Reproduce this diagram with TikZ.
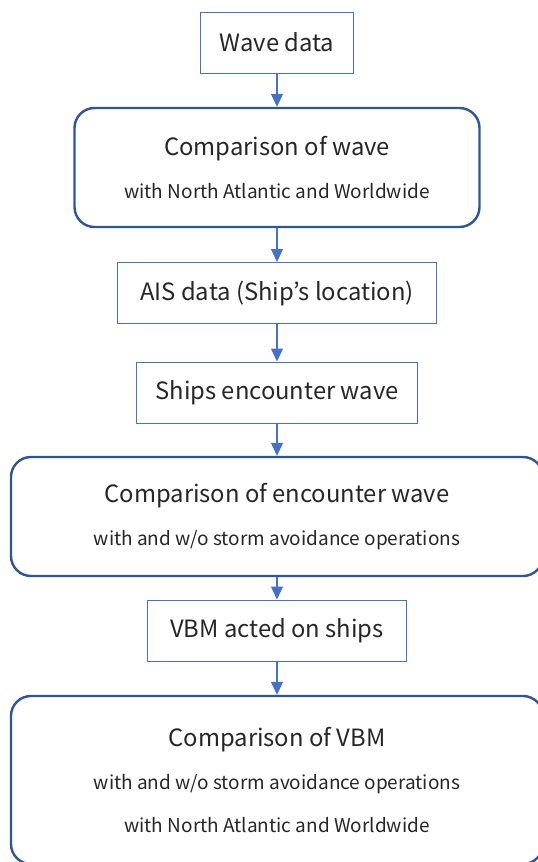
\documentclass[tikz,border=0pt]{standalone}
\usepackage{fontspec}
\setmainfont{Noto Sans CJK JP}
\usetikzlibrary{arrows.meta}

\definecolor{lineblue}{HTML}{4472C4}
\definecolor{darkblue}{HTML}{2F5597}
\definecolor{textgray}{HTML}{262626}

\tikzset{
  databox/.style={draw=lineblue, line width=1pt, minimum height=61pt, text=textgray, font=\fontsize{23.8}{28}\selectfont},
  compbox/.style={draw=darkblue, line width=2.4pt, rounded corners=20pt, align=center, text=textgray, font=\fontsize{19}{43}\selectfont},
  flow/.style={draw=lineblue, line width=1.2pt, -{Triangle[width=12pt,length=13pt]}}
}

\newcommand{\headline}[1]{{\fontsize{23.8}{43}\selectfont #1}}

\begin{document}
\begin{tikzpicture}[x=1pt,y=-1pt]
  \clip (0,0) rectangle (538,862);

  % Boxes
  \node[databox, minimum width=153pt] (wave) at (277,42.5) {Wave data};
  \node[compbox, minimum width=405pt, minimum height=119pt] (compwave) at (277,167.5)
    {\headline{Comparison of wave}\\with North Atlantic and Worldwide};
  \node[databox, minimum width=319pt] (ais) at (277,293) {AIS data (Ship's location)};
  \node[databox, minimum width=281pt] (encounter) at (277,392.5) {Ships encounter wave};
  \node[compbox, minimum width=532pt, minimum height=119pt] (compenc) at (277,516.5)
    {\headline{Comparison of encounter wave}\\with and w/o storm avoidance operations};
  \node[databox, minimum width=259pt] (vbm) at (277,630.5) {VBM acted on ships};
  \node[compbox, minimum width=532pt, minimum height=168pt] (compvbm) at (277,780)
    {\headline{Comparison of VBM}\\with and w/o storm avoidance operations\\with North Atlantic and Worldwide};

  % Arrows
  \draw[flow] (wave) -- (compwave);
  \draw[flow] (compwave) -- (ais);
  \draw[flow] (ais) -- (encounter);
  \draw[flow] (encounter) -- (compenc);
  \draw[flow] (compenc) -- (vbm);
  \draw[flow] (vbm) -- (compvbm);
\end{tikzpicture}
\end{document}
